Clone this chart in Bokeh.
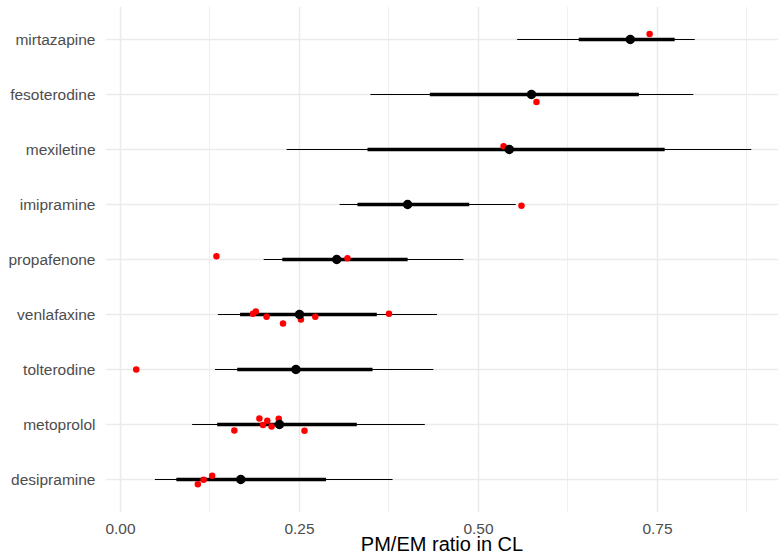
from bokeh.plotting import figure
from bokeh.models import ColumnDataSource, FactorRange, FixedTicker, NumeralTickFormatter, Range1d
from bokeh.embed import file_html
from bokeh.resources import INLINE

# ---- data (bottom to top) ----
drugs = ["desipramine", "metoprolol", "tolterodine", "venlafaxine", "propafenone",
         "imipramine", "mexiletine", "fesoterodine", "mirtazapine"]
median = [0.168, 0.222, 0.245, 0.250, 0.302, 0.401, 0.543, 0.574, 0.712]
inner_lo = [0.078, 0.135, 0.163, 0.167, 0.226, 0.331, 0.345, 0.432, 0.640]
inner_hi = [0.287, 0.330, 0.352, 0.358, 0.401, 0.487, 0.760, 0.724, 0.774]
outer_lo = [0.048, 0.100, 0.132, 0.136, 0.200, 0.306, 0.232, 0.349, 0.554]
outer_hi = [0.380, 0.425, 0.437, 0.442, 0.479, 0.552, 0.881, 0.800, 0.802]

obs_drug = ["desipramine", "desipramine", "desipramine",
            "metoprolol", "metoprolol", "metoprolol", "metoprolol", "metoprolol", "metoprolol", "metoprolol",
            "tolterodine",
            "venlafaxine", "venlafaxine", "venlafaxine", "venlafaxine", "venlafaxine", "venlafaxine", "venlafaxine",
            "propafenone", "propafenone",
            "imipramine", "mexiletine", "fesoterodine", "mirtazapine"]
obs_ratio = [0.128, 0.116, 0.108,
             0.194, 0.205, 0.221, 0.199, 0.211, 0.159, 0.257,
             0.022,
             0.185, 0.189, 0.204, 0.227, 0.252, 0.272, 0.375,
             0.317, 0.134,
             0.560, 0.535, 0.581, 0.739]
obs_jitter = [0.067, -0.005, -0.085,
              0.109, 0.067, 0.104, -0.011, -0.036, -0.109, -0.115,
              0.0,
              0.013, 0.055, -0.042, -0.164, -0.091, -0.042, 0.013,
              0.025, 0.060,
              -0.024, 0.060, -0.135, 0.100]

x_major = [0.0, 0.25, 0.5, 0.75]
x_minor = [0.125, 0.375, 0.625, 0.875]
x_title = "PM/EM ratio in CL"

FONT = "Liberation Sans"

summary = ColumnDataSource(dict(drug=drugs, median=median, ilo=inner_lo, ihi=inner_hi,
                                olo=outer_lo, ohi=outer_hi))
obs = ColumnDataSource(dict(y=[(d, j) for d, j in zip(obs_drug, obs_jitter)], x=obs_ratio))

p = figure(width=778, height=557, output_backend="svg", toolbar_location=None,
           y_range=FactorRange(factors=drugs, range_padding=0.2 / 9, range_padding_units="percent"),
           x_range=Range1d(-0.02095, 0.919),
           min_border_left=105, min_border_right=0, min_border_top=6, min_border_bottom=45)

p.outline_line_color = None
p.background_fill_color = "white"
p.border_fill_color = "white"

# grid
p.xgrid.ticker = FixedTicker(ticks=x_major, minor_ticks=x_minor)
p.xgrid.grid_line_color = "#EBEBEB"
p.xgrid.grid_line_width = 1.5
p.xgrid.minor_grid_line_color = "#EBEBEB"
p.xgrid.minor_grid_line_width = 0.8
p.ygrid.grid_line_color = "#EBEBEB"
p.ygrid.grid_line_width = 1.5

# glyphs
p.segment(x0="olo", x1="ohi", y0="drug", y1="drug", source=summary,
          line_color="black", line_width=1.1, line_cap="butt")
p.segment(x0="ilo", x1="ihi", y0="drug", y1="drug", source=summary,
          line_color="black", line_width=3.4, line_cap="butt")
p.scatter(x="x", y="y", source=obs, size=6.5, fill_color="#FF0000", line_color=None)
p.scatter(x="median", y="drug", source=summary, size=9.5, fill_color="black", line_color=None)

# axes
p.xaxis.ticker = FixedTicker(ticks=x_major)
p.xaxis.formatter = NumeralTickFormatter(format="0.00")
p.xaxis.axis_label = x_title
for ax in (p.xaxis[0], p.yaxis[0]):
    ax.axis_line_color = None
    ax.major_tick_line_color = None
    ax.minor_tick_line_color = None
    ax.major_label_text_font = FONT
    ax.major_label_text_font_size = "15.5px"
    ax.major_label_text_color = "#4D4D4D"
p.xaxis.major_label_standoff = 5
p.xaxis.axis_label_standoff = -4
p.xaxis.axis_label_text_font = FONT
p.xaxis.axis_label_text_font_size = "20px"
p.xaxis.axis_label_text_font_style = "normal"
p.xaxis.axis_label_text_color = "black"
p.yaxis.major_label_standoff = 4

open("out.html", "w").write(file_html(p, INLINE))
